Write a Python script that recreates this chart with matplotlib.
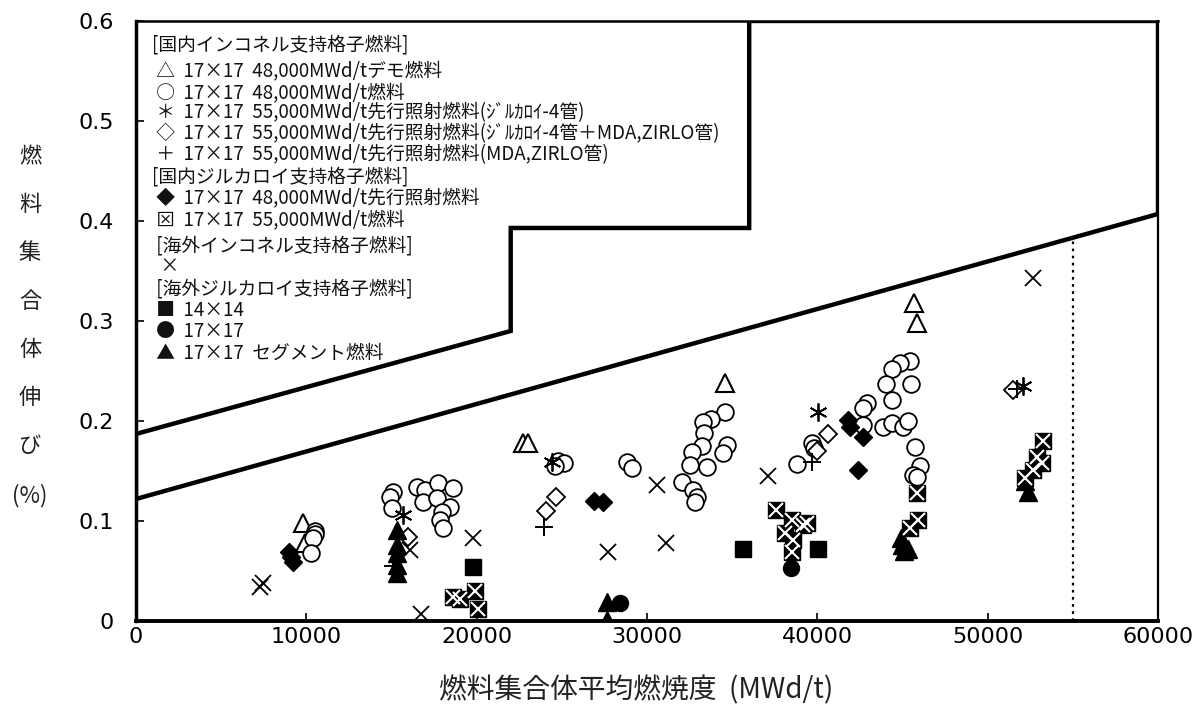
import numpy as np
import matplotlib.pyplot as plt

plt.rcParams['font.family'] = ['Noto Sans CJK JP', 'DejaVu Sans']

# design envelope (burnup MWd/t, elongation %)
upper_x = [0, 0, 22000, 22000, 36000, 36000, 60000, 60000]
upper_y = [0.122, 0.187, 0.290, 0.393, 0.393, 0.600, 0.600, 0.407]
lower_x = [0, 60000]
lower_y = [0.122, 0.407]
limit_burnup = 55000

# domestic inconel grid fuel
demo_x = [9800, 9900, 22700, 23000, 34600, 45700, 45850]
demo_y = [0.098, 0.078, 0.178, 0.178, 0.238, 0.318, 0.298]

f48_x = [10500, 10500, 10400, 10300,
         15090, 14910, 15030, 16490, 16960, 17730, 18610, 16850, 17670, 18430, 17960, 17850, 18020,
         24800, 25100, 24600, 28800, 29100,
         34570, 33750, 33280, 33340, 33220, 32640, 34690, 34460, 33520, 32520, 32050, 32700, 32930, 32810,
         38800, 39700, 39800,
         45430, 44850, 44380, 44030, 45490, 44380, 42910, 42680, 42680, 43850, 44380, 45020, 45320,
         45730, 46020, 45610, 45850]
f48_y = [0.090, 0.087, 0.083, 0.068,
         0.129, 0.124, 0.113, 0.134, 0.131, 0.138, 0.133, 0.119, 0.123, 0.114, 0.109, 0.101, 0.093,
         0.160, 0.158, 0.155, 0.159, 0.153,
         0.209, 0.202, 0.199, 0.188, 0.175, 0.169, 0.176, 0.168, 0.154, 0.156, 0.139, 0.131, 0.124, 0.119,
         0.157, 0.178, 0.173,
         0.260, 0.258, 0.252, 0.237, 0.237, 0.221, 0.218, 0.213, 0.196, 0.194, 0.198, 0.194, 0.200,
         0.174, 0.155, 0.146, 0.144]

lead_zr4_x = [15680, 24420, 40040, 52100]
lead_zr4_y = [0.106, 0.159, 0.209, 0.235]

lead_mix_x = [15970, 24660, 24070, 40620, 39970, 51500]
lead_mix_y = [0.084, 0.124, 0.110, 0.187, 0.170, 0.231]

lead_mda_x = [15100, 23950, 39680, 51700]
lead_mda_y = [0.055, 0.094, 0.159, 0.232]

# domestic zircaloy grid fuel
zr48_x = [9000, 9100, 9200, 26900, 27400, 41800, 41900, 42680, 42380]
zr48_y = [0.069, 0.064, 0.059, 0.120, 0.119, 0.201, 0.194, 0.184, 0.151]

zr55_x = [18600, 19000, 19900, 20100,
          37570, 38500, 39150, 38100, 38560, 38500, 39400,
          45860, 45910, 45450,
          53270, 52900, 53200, 52190, 52650]
zr55_y = [0.024, 0.022, 0.030, 0.012,
          0.111, 0.101, 0.096, 0.088, 0.081, 0.069, 0.098,
          0.128, 0.101, 0.093,
          0.180, 0.164, 0.158, 0.143, 0.151]

# overseas fuel
ov_inc_x = [7450, 7280, 16730, 16080, 19780, 30580, 27700, 31110, 37100, 52650]
ov_inc_y = [0.038, 0.034, 0.007, 0.071, 0.083, 0.136, 0.069, 0.078, 0.145, 0.343]

ov_14_x = [19780, 35630, 40030]
ov_14_y = [0.054, 0.072, 0.072]

ov_17_x = [28410, 38450]
ov_17_y = [0.018, 0.053]

ov_seg_x = [15300, 15300, 15300, 15300, 15300, 27650, 27650, 44900, 45000, 45100, 45300, 52200, 52360]
ov_seg_y = [0.091, 0.076, 0.068, 0.056, 0.048, 0.019, 0.001, 0.083, 0.076, 0.070, 0.072, 0.140, 0.129]

legend_lines = [
    '[国内インコネル支持格子燃料]',
    ' △  17×17  48,000MWd/tデモ燃料',
    ' ○  17×17  48,000MWd/t燃料',
    ' ＊  17×17  55,000MWd/t先行照射燃料(ｼﾞﾙｶﾛｲ-4管)',
    ' ◇  17×17  55,000MWd/t先行照射燃料(ｼﾞﾙｶﾛｲ-4管＋MDA,ZIRLO管)',
    ' ＋  17×17  55,000MWd/t先行照射燃料(MDA,ZIRLO管)',
    '[国内ジルカロイ支持格子燃料]',
    ' ◆  17×17  48,000MWd/t先行照射燃料',
    ' ⊠  17×17  55,000MWd/t燃料',
    ' [海外インコネル支持格子燃料]',
    '  ×',
    ' [海外ジルカロイ支持格子燃料]',
    ' ■  14×14',
    ' ●  17×17',
    ' ▲  17×17  セグメント燃料',
]
legend_py = [45, 71, 93, 113, 134, 155, 177, 198, 220, 246, 267, 289, 311, 332, 353]

fig = plt.figure(figsize=(12, 7.18), dpi=100)
ax = fig.add_axes([0.1133, 0.1351, 0.8517, 0.8357])

ax.plot(upper_x, upper_y, color='black', lw=3.2, solid_joinstyle='miter', zorder=3)
ax.plot(lower_x, lower_y, color='black', lw=3.2, zorder=3)
ax.plot([limit_burnup, limit_burnup], [0, lower_y[0] + (lower_y[1] - lower_y[0]) * limit_burnup / 60000],
        color='black', lw=1.6, ls=(0, (1.2, 2.0)), zorder=3)

ms = 12
ax.plot(demo_x, demo_y, ls='none', marker='^', ms=ms + 1, mfc='white', mec='black', mew=1.5, zorder=4)
ax.plot(f48_x, f48_y, ls='none', marker='o', ms=ms, mfc='white', mec='black', mew=1.3, zorder=4)
ax.plot(lead_zr4_x, lead_zr4_y, ls='none', marker=(6, 2, 0), ms=ms + 1, mec='black', mew=1.3, zorder=5)
ax.plot(lead_mix_x, lead_mix_y, ls='none', marker='D', ms=9, mfc='white', mec='black', mew=1.3, zorder=5)
ax.plot(lead_mda_x, lead_mda_y, ls='none', marker='+', ms=ms + 1, mec='black', mew=1.4, zorder=5)
ax.plot(zr48_x, zr48_y, ls='none', marker='D', ms=9, mfc='black', mec='black', zorder=5)
ax.plot(zr55_x, zr55_y, ls='none', marker='s', ms=ms - 1, mfc='black', mec='black', zorder=5)
ax.plot(zr55_x, zr55_y, ls='none', marker='x', ms=ms - 2.5, mec='white', mew=1.5, zorder=6)
ax.plot(ov_inc_x, ov_inc_y, ls='none', marker='x', ms=ms, mec='black', mew=1.3, zorder=5)
ax.plot(ov_14_x, ov_14_y, ls='none', marker='s', ms=ms - 0.5, mfc='black', mec='black', zorder=5)
ax.plot(ov_17_x, ov_17_y, ls='none', marker='o', ms=ms - 0.5, mfc='black', mec='black', zorder=5)
ax.plot(ov_seg_x, ov_seg_y, ls='none', marker='^', ms=ms + 1, mfc='black', mec='black', zorder=5)

ax.set_xlim(0, 60000)
ax.set_ylim(0, 0.6)
ax.set_xticks(np.arange(0, 60001, 10000))
ax.set_yticks(np.arange(0, 0.61, 0.1))
ax.set_yticklabels(['0', '0.1', '0.2', '0.3', '0.4', '0.5', '0.6'])
ax.tick_params(direction='in', length=6, width=1.2, labelsize=16, pad=4)
ax.tick_params(axis='y', pad=16)
for lab in ax.get_xticklabels() + ax.get_yticklabels():
    lab.set_family('DejaVu Sans')
ax.spines['left'].set_linewidth(2.5)
ax.spines['bottom'].set_linewidth(2.8)
ax.spines['top'].set_linewidth(1.8)
ax.spines['right'].set_linewidth(1.6)

for text, py in zip(legend_lines, legend_py):
    fig.text(152 / 1200, 1 - py / 718, text, fontsize=13.5, va='center', ha='left', color='#111111')

fig.text(30 / 1200, 1 - 326 / 718, '燃\n料\n集\n合\n体\n伸\nび\n(%)', fontsize=16,
         ha='center', va='center', linespacing=2.4, color='#222222')
fig.text(636 / 1200, 1 - 690 / 718, '燃料集合体平均燃焼度  (MWd/t)', fontsize=20,
         ha='center', va='center', color='#222222')

fig.savefig('out.png', dpi=100)
